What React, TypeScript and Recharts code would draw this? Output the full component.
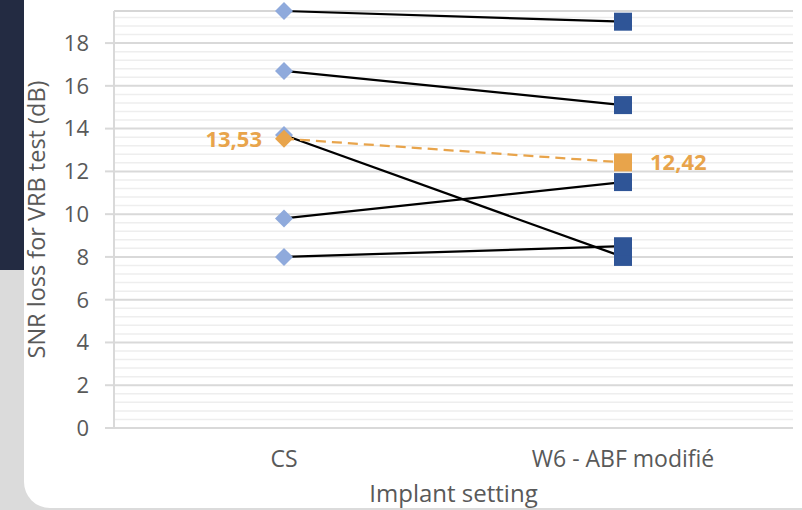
import { LabelList, Line, LineChart, ReferenceLine, XAxis, YAxis } from "recharts";

// Implant settings compared (x categories)
const categories = ["CS", "W6 - ABF modifié"];

// SNR loss per subject, one pair of values per subject (CS, W6)
const subject1 = [19.5, 19.0];
const subject2 = [16.7, 15.1];
const subject3 = [13.7, 8.0];
const subject4 = [9.8, 11.5];
const subject5 = [8.0, 8.5];
const meanValues = [13.53, 12.42];

const yTicks = [0, 2, 4, 6, 8, 10, 12, 14, 16, 18];
const yMax = 19.5;

const subjects = [subject1, subject2, subject3, subject4, subject5];

const data = categories.map((cat, i) => {
  const row: Record<string, string | number> = { cat, mean: meanValues[i] };
  subjects.forEach((s, k) => {
    row[`s${k + 1}`] = s[i];
  });
  return row;
});

// minor gridlines every 0.4 (Excel default: major / 5)
const minorLines: number[] = [];
for (let k = 1; k * 0.4 < yMax; k++) {
  const v = Math.round(k * 0.4 * 10) / 10;
  if (Math.abs(v / 2 - Math.round(v / 2)) > 0.01) minorLines.push(v);
}

const FONT = "'Open Sans', sans-serif";
const LIGHT_BLUE = "#8FAADC";
const DARK_BLUE = "#2F5597";
const ORANGE = "#E8A44B";
const TEXT = "#595959";

function marker(fillFirst: string, fillSecond: string) {
  return (props: any) => {
    const { cx, cy, index } = props;
    if (cx == null || cy == null) return <g key={index} />;
    if (index === 0) {
      const r = 9;
      return (
        <path
          key={index}
          d={`M${cx},${cy - r}L${cx + r},${cy}L${cx},${cy + r}L${cx - r},${cy}Z`}
          fill={fillFirst}
        />
      );
    }
    return <rect key={index} x={cx - 9} y={cy - 9} width={18} height={18} fill={fillSecond} />;
  };
}

function meanLabel(props: any) {
  const { x, y, value, index } = props;
  const text = Number(value).toFixed(2).replace(".", ",");
  const left = index === 0;
  return (
    <text
      x={left ? x - 22 : x + 27}
      y={y}
      dy="0.36em"
      textAnchor={left ? "end" : "start"}
      fill={ORANGE}
      fontWeight={700}
      fontSize={22}
      fontFamily={FONT}
    >
      {text}
    </text>
  );
}

export default function App() {
  return (
    <div
      style={{
        position: "fixed",
        left: 0,
        top: 0,
        width: 802,
        height: 510,
        overflow: "hidden",
        background: "#DBDBDB",
        fontFamily: FONT,
      }}
    >
      <div style={{ position: "absolute", left: 0, top: 0, width: 40, height: 270, background: "#232B42" }} />
      <div
        style={{
          position: "absolute",
          left: 24,
          top: -40,
          width: 820,
          height: 548,
          borderRadius: 26,
          background: "#FFFFFF",
        }}
      />
      <div style={{ position: "absolute", left: 0, top: 0 }}>
        <LineChart width={802} height={510} data={data} margin={{ top: 11, right: 9, bottom: 0, left: 0 }}>
          {minorLines.map((v) => (
            <ReferenceLine key={`m${v}`} y={v} stroke="#EEEEEE" strokeWidth={1.5} />
          ))}
          {yTicks.map((v) => (
            <ReferenceLine key={`M${v}`} y={v} stroke="#D9D9D9" strokeWidth={2} />
          ))}
          <ReferenceLine y={yMax} stroke="#C8C8C8" strokeWidth={1.5} />
          <XAxis
            dataKey="cat"
            height={82}
            padding={{ left: 170, right: 170 }}
            axisLine={{ stroke: "#D9D9D9", strokeWidth: 2 }}
            tickLine={false}
            tickSize={0}
            tickMargin={23}
            tick={{ fill: TEXT, fontSize: 23, fontFamily: FONT }}
            label={{
              value: "Implant setting",
              position: "insideBottom",
              offset: 8,
              fill: TEXT,
              fontSize: 24,
              fontFamily: FONT,
            }}
          />
          <YAxis
            width={114}
            domain={[0, yMax]}
            ticks={yTicks}
            interval={0}
            axisLine={{ stroke: "#D9D9D9", strokeWidth: 2 }}
            tickLine={{ stroke: "#D9D9D9", strokeWidth: 2 }}
            tickSize={9}
            tickMargin={16}
            tick={{ fill: TEXT, fontSize: 22, fontFamily: FONT }}
            label={{
              value: "SNR loss for VRB test (dB)",
              angle: -90,
              position: "insideLeft",
              offset: 37,
              fill: TEXT,
              fontSize: 23.5,
              fontFamily: FONT,
              style: { textAnchor: "middle" },
            }}
          />
          <YAxis
            yAxisId="frame"
            orientation="right"
            width={0}
            domain={[0, yMax]}
            tick={false}
            tickLine={false}
            axisLine={{ stroke: "#C8C8C8", strokeWidth: 1.5 }}
          />
          {subjects.map((_, k) => (
            <Line
              key={k}
              dataKey={`s${k + 1}`}
              type="linear"
              stroke="#000000"
              strokeWidth={2.25}
              dot={marker(LIGHT_BLUE, DARK_BLUE)}
              activeDot={false}
              isAnimationActive={false}
            />
          ))}
          <Line
            dataKey="mean"
            type="linear"
            stroke={ORANGE}
            strokeWidth={2.25}
            strokeDasharray="10 6"
            dot={marker(ORANGE, ORANGE)}
            activeDot={false}
            isAnimationActive={false}
          >
            <LabelList dataKey="mean" content={meanLabel} />
          </Line>
        </LineChart>
      </div>
    </div>
  );
}
